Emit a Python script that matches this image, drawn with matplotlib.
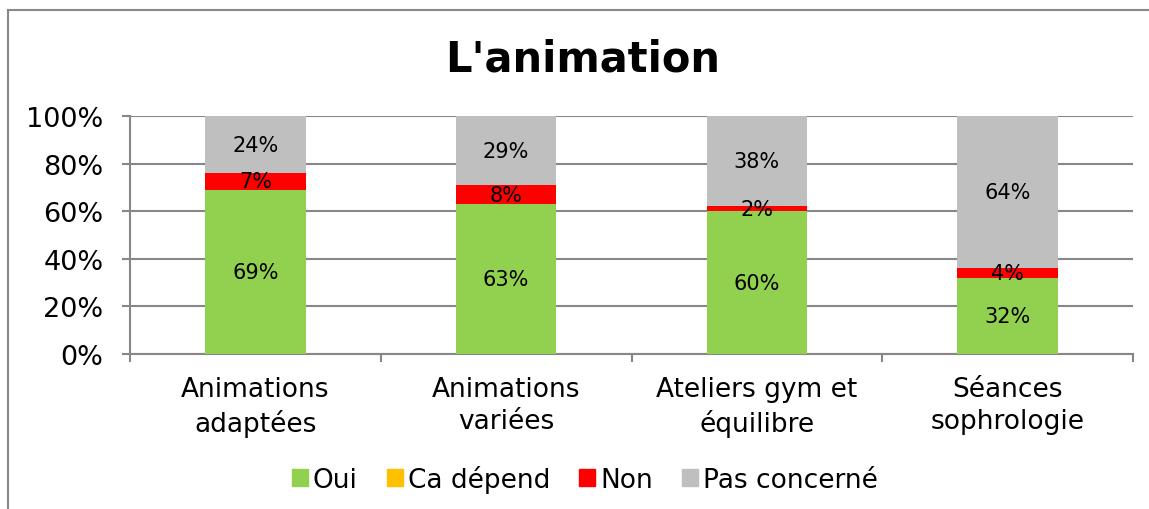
import matplotlib
matplotlib.use("Agg")
import matplotlib.pyplot as plt
from matplotlib.lines import Line2D
import numpy as np

categories = ["Animations\nadaptées", "Animations\nvariées", "Ateliers gym et\néquilibre", "Séances\nsophrologie"]
series_names = ["Oui", "Ca dépend", "Non", "Pas concerné"]
oui = [69, 63, 60, 32]
ca_depend = [0, 0, 0, 0]
non = [7, 8, 2, 4]
pas_concerne = [24, 29, 38, 64]
colors = ["#92D050", "#FFC000", "#FF0000", "#BFBFBF"]
yticks = [0, 20, 40, 60, 80, 100]

plt.rcParams['font.family'] = ['DejaVu Sans']
W, H = 1149, 510
fig = plt.figure(figsize=(W/100, H/100), dpi=100)
ax = fig.add_axes([130/W, 1-355/H, (1133-130)/W, (355-117)/H])

x = np.arange(len(categories))
bottom = np.zeros(len(categories))
series = [oui, ca_depend, non, pas_concerne]
for name, vals, c in zip(series_names, series, colors):
    vals = np.array(vals, dtype=float)
    ax.bar(x, vals, 0.4, bottom=bottom, color=c, label=name, zorder=3, linewidth=0)
    for xi, b, v in zip(x, bottom, vals):
        if v > 0:
            ax.text(xi, b + v/2, f"{int(v)}%", ha='center', va='center', fontsize=15, color='black', zorder=4)
    bottom += vals

ax.set_xlim(-0.5, 3.5)
ax.set_ylim(0, 100)
ax.set_yticks(yticks)
ax.set_yticklabels([f"{t}%" for t in yticks], fontsize=19.5)
ax.yaxis.grid(True, color='#878787', linewidth=1.5, zorder=0)
ax.set_axisbelow(True)
ax.set_xticks(x)
ax.set_xticklabels(categories, fontsize=19, linespacing=1.3)
ax.set_xticks(np.arange(-0.5, 4.0, 1.0), minor=True)
ax.tick_params(axis='x', which='major', length=0, pad=16)
ax.tick_params(axis='x', which='minor', length=6, width=1.5, color='#878787', direction='out')
ax.tick_params(axis='y', length=6, width=1.5, color='#878787', pad=13)
for s in ['top', 'right']:
    ax.spines[s].set_visible(False)
for s in ['left', 'bottom']:
    ax.spines[s].set_color('#878787')
    ax.spines[s].set_linewidth(1.5)

fig.text(583/W, 1-60/H, "L'animation", ha='center', va='center', fontsize=30, fontweight='bold')

handles = [plt.Rectangle((0, 0), 1, 1, color=c) for c in colors]
fig.legend(handles, series_names, loc='center', bbox_to_anchor=(585/W, 1-480/H), ncol=4,
           frameon=False, fontsize=19, handlelength=0.6, handleheight=0.6,
           handletextpad=0.2, columnspacing=1.1)

# chart border
fig.add_artist(Line2D([8/W, 8/W], [0, 1-11/H], color='#888888', lw=1.5, transform=fig.transFigure))
fig.add_artist(Line2D([8/W, 1], [1-11/H, 1-11/H], color='#888888', lw=1.5, transform=fig.transFigure))

fig.savefig("out.png", dpi=100)
